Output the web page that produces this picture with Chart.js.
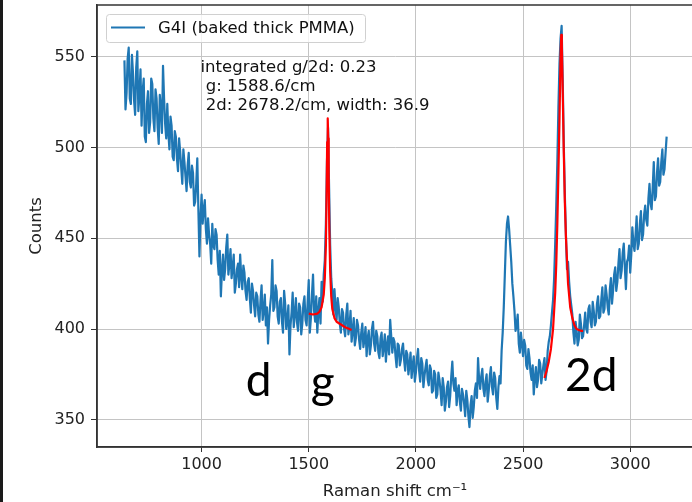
<!DOCTYPE html>
<html>
<head>
<meta charset="utf-8">
<script src="https://cdn.jsdelivr.net/npm/chart.js@4.4.1/dist/chart.umd.min.js"></script>
<style>
  html, body { margin: 0; padding: 0; background: #fff; overflow: hidden; }
  #wrap { position: relative; width: 692px; height: 502px; overflow: hidden; }
  #spectrum { position: absolute; left: 0; top: 0; }
  #edge { position: absolute; left: 0; top: 0; width: 3px; height: 502px; background: #1a1a1a; }
</style>
</head>
<body>
<div id="wrap">
  <canvas id="spectrum" width="700" height="502"></canvas>
  <div id="edge"></div>
</div>
<script>
// spectrum samples: shift = shiftStart + i * shiftStep (cm-1), one row per 100 cm-1
const shiftStart = 640;
const shiftStep = 5;
const counts = [
  548, 521, 530, 549, 555, 527, 524, 551, 541, 526, 518, 544, 553, 520, 529, 543, 512, 531, 538, 506,
  503, 524, 531, 508, 514, 538, 535, 516, 509, 532, 527, 511, 502, 529, 522, 508, 545, 527, 513, 505,
  524, 508, 499, 517, 512, 495, 493, 509, 506, 494, 487, 505, 498, 489, 480, 499, 492, 484, 476, 490,
  497, 481, 478, 490, 486, 468, 470, 480, 494, 466, 440, 462, 474, 458, 466, 471, 455, 447, 461, 452,
  447, 436, 458, 446, 444, 455, 452, 438, 430, 443, 418, 432, 441, 427, 433, 445, 452, 430, 436, 444,
  428, 434, 441, 420, 425, 433, 436, 423, 441, 429, 422, 435, 431, 421, 416, 426, 428, 417, 409, 425,
  421, 413, 407, 420, 418, 408, 404, 416, 424, 405, 410, 419, 402, 412, 392, 405, 413, 419, 438, 410,
  412, 424, 421, 407, 403, 415, 417, 404, 398, 421, 414, 400, 405, 413, 386, 402, 409, 420, 401, 408,
  417, 404, 399, 414, 412, 397, 403, 414, 418, 405, 402, 415, 427, 398, 406, 419, 430, 410, 404, 418,
  398, 410, 417, 403, 426, 415, 430, 438, 458, 492, 511, 478, 446, 428, 420, 408, 422, 412, 405, 417,
  412, 403, 398, 411, 409, 400, 396, 408, 414, 397, 401, 410, 393, 399, 406, 391, 395, 405, 402, 394,
  389, 398, 403, 390, 394, 401, 385, 395, 399, 386, 391, 400, 404, 392, 388, 399, 396, 387, 384, 395,
  398, 385, 390, 397, 382, 391, 396, 386, 405, 396, 387, 395, 393, 385, 379, 392, 391, 380, 383, 389,
  392, 383, 377, 388, 386, 375, 380, 387, 373, 380, 385, 371, 376, 384, 389, 377, 371, 384, 381, 368,
  374, 379, 383, 372, 369, 380, 378, 365, 366, 377, 375, 362, 364, 376, 372, 366, 358, 373, 368, 355,
  360, 368, 371, 357, 363, 374, 382, 370, 366, 373, 358, 366, 369, 360, 355, 367, 364, 359, 352, 366,
  361, 352, 346, 358, 363, 351, 357, 366, 370, 362, 384, 372, 367, 374, 378, 367, 363, 371, 375, 360,
  366, 374, 379, 368, 364, 376, 373, 362, 356, 368, 374, 370, 388, 398, 412, 430, 448, 458, 462, 455,
  446, 437, 425, 418, 410, 399, 402, 408, 392, 387, 398, 392, 385, 394, 391, 380, 378, 389, 384, 376,
  372, 380, 364, 373, 379, 368, 372, 383, 381, 370, 375, 380, 384, 372, 377, 388, 393, 396, 402, 409,
  416, 428, 447, 468, 492, 522, 546, 560, 567, 538, 502, 474, 452, 433, 437, 426, 418, 413, 408, 398,
  392, 404, 399, 391, 394, 408, 403, 395, 396, 402, 409, 400, 398, 411, 413, 404, 401, 415, 410, 402,
  404, 414, 418, 406, 407, 416, 423, 409, 411, 424, 419, 412, 408, 422, 428, 414, 421, 430, 434, 421,
  426, 436, 444, 428, 432, 442, 447, 434, 422, 437, 439, 446, 431, 441, 456, 447, 443, 452, 462, 444,
  447, 458, 465, 449, 452, 463, 468, 460, 457, 472, 480, 469, 466, 478, 492, 471, 473, 486, 494, 479,
  481, 492, 499, 485, 488, 497, 506
];

// fitted g peak
const gFitShift = [1500, 1520, 1540, 1550, 1560, 1570, 1575, 1580, 1584, 1586, 1588.6, 1591, 1593, 1596, 1600, 1605, 1610, 1620, 1630, 1650, 1670, 1690, 1700];
const gFitCounts = [408.5, 408, 408.5, 409.5, 412, 419, 428, 446, 480, 503, 516, 505, 484, 455, 432, 418, 411, 406, 404, 402.5, 401, 400, 399.5];

// fitted 2d peak
const dFitShift = [2600, 2610, 2620, 2630, 2640, 2650, 2655, 2660, 2665, 2670, 2675, 2678.2, 2681, 2685, 2690, 2695, 2700, 2710, 2720, 2730, 2740, 2750, 2760, 2770, 2780];
const dFitCounts = [373, 377, 382, 389, 400, 420, 436, 458, 486, 515, 550, 562, 556, 532, 498, 470, 451, 425, 412, 406, 402, 400, 399.5, 399, 399];

const xTicks = [1000, 1500, 2000, 2500, 3000];
const yTicks = [350, 400, 450, 500, 550];

const seriesLabel = 'G4I (baked thick PMMA)';
const fitNote = ['integrated g/2d: 0.23', ' g: 1588.6/cm', ' 2d: 2678.2/cm, width: 36.9'];
const peakNames = ['d', 'g', '2d'];
const peakNameAt = [[1206, 363], [1509, 362], [2696, 366]];
const noteAt = [995, 541.5];

const FONT = '"DejaVu Sans", sans-serif';
const TEXT_SIZE = 16.5;
const BLUE = '#1f77b4';

const spectrum = counts.map((c, i) => ({ x: shiftStart + i * shiftStep, y: c }));
const gFit = gFitShift.map((s, i) => ({ x: s, y: gFitCounts[i] }));
const dFit = dFitShift.map((s, i) => ({ x: s, y: dFitCounts[i] }));

// keep the plot box where it is, whatever the tick labels want
const noEdgePadding = (scale) => {
  scale.paddingTop = 0;
  scale.paddingBottom = 0;
  scale.paddingLeft = 0;
  scale.paddingRight = 0;
};

const overlay = {
  id: 'overlay',
  afterDatasetsDraw(chart) {
    const { ctx, chartArea: a, scales: { x, y } } = chart;
    ctx.save();

    // axes frame
    ctx.strokeStyle = '#333';
    ctx.lineWidth = 1.5;
    ctx.strokeRect(a.left, a.top, a.right - a.left, a.bottom - a.top);

    // fit summary
    ctx.fillStyle = '#111';
    ctx.font = TEXT_SIZE + 'px ' + FONT;
    ctx.textBaseline = 'alphabetic';
    const nx = x.getPixelForValue(noteAt[0]);
    const ny = y.getPixelForValue(noteAt[1]);
    fitNote.forEach((line, i) => ctx.fillText(line, nx, ny + i * 19));

    // legend box
    ctx.beginPath();
    ctx.roundRect(106.5, 14.5, 259, 28, 3);
    ctx.fillStyle = 'rgba(255,255,255,0.8)';
    ctx.fill();
    ctx.strokeStyle = '#d0d0d0';
    ctx.lineWidth = 1;
    ctx.stroke();
    ctx.beginPath();
    ctx.moveTo(111, 27.5);
    ctx.lineTo(145, 27.5);
    ctx.strokeStyle = BLUE;
    ctx.lineWidth = 2;
    ctx.stroke();
    ctx.fillStyle = '#111';
    ctx.textBaseline = 'middle';
    ctx.fillText(seriesLabel, 158, 28.5);

    // peak names
    ctx.fillStyle = '#000';
    ctx.font = '46px Lato, "Open Sans", sans-serif';
    ctx.textBaseline = 'alphabetic';
    peakNames.forEach((name, i) => {
      ctx.fillText(name, x.getPixelForValue(peakNameAt[i][0]), y.getPixelForValue(peakNameAt[i][1]));
    });
    ctx.restore();
  }
};

new Chart(document.getElementById('spectrum'), {
  type: 'line',
  data: {
    datasets: [
      { label: seriesLabel, data: spectrum, borderColor: BLUE, borderWidth: 2.2, order: 2 },
      { label: 'g fit', data: gFit, borderColor: '#ff0000', borderWidth: 2.2, order: 1 },
      { label: '2d fit', data: dFit, borderColor: '#ff0000', borderWidth: 2.2, order: 1 }
    ]
  },
  options: {
    responsive: false,
    animation: false,
    devicePixelRatio: 1,
    parsing: false,
    layout: { padding: { top: 5, right: 7, left: 0, bottom: 0 } },
    elements: {
      point: { radius: 0 },
      line: { tension: 0, borderJoinStyle: 'round', fill: false }
    },
    plugins: { legend: { display: false }, tooltip: { enabled: false } },
    scales: {
      x: {
        type: 'linear',
        min: 512,
        max: 3293,
        afterBuildTicks: (scale) => { scale.ticks = xTicks.map(v => ({ value: v })); },
        afterFit: (scale) => { scale.height = 55; noEdgePadding(scale); },
        grid: { color: '#c4c4c4', lineWidth: 1, tickLength: 5, tickColor: '#333' },
        border: { color: '#333', width: 1.5 },
        ticks: { color: '#222', padding: 3, maxRotation: 0, font: { family: FONT, size: 16 }, callback: (v) => String(v) },
        title: {
          display: true,
          text: 'Raman shift cm\u207B\u00B9',
          color: '#222',
          font: { family: FONT, size: TEXT_SIZE },
          padding: { top: 0, bottom: 0.1 }
        }
      },
      y: {
        type: 'linear',
        min: 335,
        max: 578.5,
        afterBuildTicks: (scale) => { scale.ticks = yTicks.map(v => ({ value: v })); },
        afterFit: (scale) => { scale.width = 97; noEdgePadding(scale); },
        grid: { color: '#c4c4c4', lineWidth: 1, tickLength: 6, tickColor: '#333' },
        border: { color: '#333', width: 1.5 },
        ticks: { color: '#222', padding: 6, font: { family: FONT, size: 16 }, callback: (v) => String(v) },
        title: {
          display: true,
          text: 'Counts',
          color: '#222',
          font: { family: FONT, size: TEXT_SIZE },
          padding: { top: 27.1, bottom: 0 }
        }
      }
    }
  },
  plugins: [overlay]
});
</script>
</body>
</html>
